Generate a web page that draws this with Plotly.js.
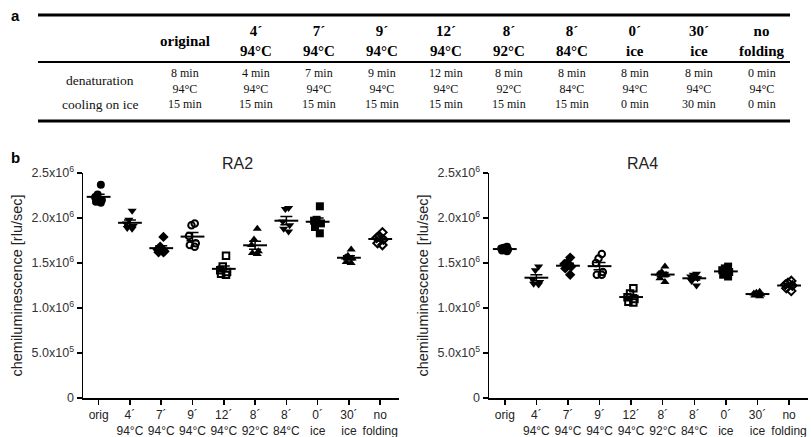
<!DOCTYPE html>
<html>
<head>
<meta charset="utf-8">
<script src="https://cdn.plot.ly/plotly-3.0.1.min.js"></script>
<style>html,body{margin:0;padding:0;background:#fff}#chart{width:811px;height:437px}</style>
</head>
<body>
<div id="chart"></div>
<script>
// ---------- table data (panel a) ----------
const tableHeaders = ["", "original", "4´<br>94°C", "7´<br>94°C", "9´<br>94°C", "12´<br>94°C", "8´<br>92°C", "8´<br>84°C", "0´<br>ice", "30´<br>ice", "no<br>folding"];
const rowLabels = ["denaturation", "cooling on ice"];
const denaturation = ["8 min<br>94°C", "4 min<br>94°C", "7 min<br>94°C", "9 min<br>94°C", "12 min<br>94°C", "8 min<br>92°C", "8 min<br>84°C", "8 min<br>94°C", "8 min<br>94°C", "0 min<br>94°C"];
const cooling = ["15 min", "15 min", "15 min", "15 min", "15 min", "15 min", "15 min", "0 min", "30 min", "0 min"];

// ---------- chart categories (panel b) ----------
const categories = ["orig", "4´<br>94°C", "7´<br>94°C", "9´<br>94°C", "12´<br>94°C", "8´<br>92°C", "8´<br>84°C", "0´<br>ice", "30´<br>ice", "no<br>folding"];
const yTickVals = [0, 5e5, 1e6, 1.5e6, 2e6, 2.5e6];
const yTickText = ["0", "5.0x10<sup>5</sup>", "1.0x10<sup>6</sup>", "1.5x10<sup>6</sup>", "2.0x10<sup>6</sup>", "2.5x10<sup>6</sup>"];

// RA2 values (rlu/sec)
const ra2Orig   = [2.37e6, 2.26e6, 2.23e6, 2.20e6, 2.18e6, 2.17e6];
const ra2T4_94  = [2.08e6, 1.98e6, 1.94e6, 1.91e6, 1.89e6, 1.88e6];
const ra2T7_94  = [1.79e6, 1.68e6, 1.65e6, 1.63e6, 1.62e6, 1.62e6];
const ra2T9_94  = [1.94e6, 1.92e6, 1.80e6, 1.72e6, 1.70e6, 1.68e6];
const ra2T12_94 = [1.58e6, 1.46e6, 1.42e6, 1.40e6, 1.38e6, 1.37e6];
const ra2T8_92  = [1.88e6, 1.76e6, 1.70e6, 1.63e6, 1.61e6, 1.60e6];
const ra2T8_84  = [2.11e6, 2.10e6, 1.96e6, 1.92e6, 1.88e6, 1.85e6];
const ra2Ice0   = [2.13e6, 1.98e6, 1.97e6, 1.94e6, 1.90e6, 1.83e6];
const ra2Ice30  = [1.65e6, 1.58e6, 1.56e6, 1.55e6, 1.51e6, 1.50e6];
const ra2NoFold = [1.84e6, 1.80e6, 1.78e6, 1.76e6, 1.72e6, 1.70e6];

// RA4 values (rlu/sec)
const ra4Orig   = [1.68e6, 1.67e6, 1.66e6, 1.65e6, 1.64e6, 1.63e6];
const ra4T4_94  = [1.46e6, 1.42e6, 1.32e6, 1.29e6, 1.27e6, 1.26e6];
const ra4T7_94  = [1.56e6, 1.50e6, 1.49e6, 1.46e6, 1.44e6, 1.37e6];
const ra4T9_94  = [1.60e6, 1.55e6, 1.50e6, 1.40e6, 1.37e6, 1.37e6];
const ra4T12_94 = [1.22e6, 1.16e6, 1.12e6, 1.10e6, 1.07e6, 1.06e6];
const ra4T8_92  = [1.46e6, 1.40e6, 1.38e6, 1.37e6, 1.33e6, 1.29e6];
const ra4T8_84  = [1.38e6, 1.37e6, 1.35e6, 1.33e6, 1.30e6, 1.25e6];
const ra4Ice0   = [1.46e6, 1.44e6, 1.42e6, 1.40e6, 1.37e6, 1.35e6];
const ra4Ice30  = [1.18e6, 1.17e6, 1.16e6, 1.15e6, 1.14e6, 1.13e6];
const ra4NoFold = [1.30e6, 1.28e6, 1.26e6, 1.25e6, 1.22e6, 1.19e6];

const ra2Groups = [ra2Orig, ra2T4_94, ra2T7_94, ra2T9_94, ra2T12_94, ra2T8_92, ra2T8_84, ra2Ice0, ra2Ice30, ra2NoFold];
const ra4Groups = [ra4Orig, ra4T4_94, ra4T7_94, ra4T9_94, ra4T12_94, ra4T8_92, ra4T8_84, ra4Ice0, ra4Ice30, ra4NoFold];

// ---------- styling / layout ----------
const symbols = ["circle", "triangle-down", "diamond", "circle-open", "square-open", "triangle-up", "triangle-down", "square", "triangle-up", "diamond-open"];
const sansFont = "Liberation Sans, Arial, sans-serif";
const serifFont = "Liberation Serif, Times New Roman, serif";
const W = 811, H = 437;
const px = v => v / W;
const py = v => 1 - v / H;
// table layout (pixels)
const tableColCenters = [100, 185, 256, 319, 382, 446, 509, 572, 635, 699, 762];
const tableRowCenters = { header: 41.5, denat: 80.5, cool: 104 };

const mean = a => a.reduce((s, v) => s + v, 0) / a.length;
const sem = a => { const m = mean(a); const sd = Math.sqrt(a.reduce((s, v) => s + (v - m) * (v - m), 0) / (a.length - 1)); return sd / Math.sqrt(a.length); };

const traces = [];

function addPanel(groups, xa, ya) {
  groups.forEach((vals, i) => {
    const open = symbols[i].endsWith("open");
    traces.push({
      type: "box",
      xaxis: xa, yaxis: ya,
      x0: i, y: vals,
      boxpoints: "all", jitter: 0.55, pointpos: 0,
      line: { width: 0, color: "rgba(0,0,0,0)" },
      fillcolor: "rgba(0,0,0,0)",
      whiskerwidth: 0,
      marker: { symbol: symbols[i], size: open ? 6.5 : 8, color: "black", line: { color: "black", width: open ? 2 : 0 } },
      showlegend: false, hoverinfo: "y"
    });
  });
  traces.push({
    type: "scatter", mode: "markers",
    xaxis: xa, yaxis: ya,
    x: groups.map((g, i) => i),
    y: groups.map(mean),
    error_y: { type: "data", array: groups.map(sem), visible: true, color: "black", thickness: 1.5, width: 6 },
    marker: { symbol: "line-ew", size: 17, color: "black", line: { color: "black", width: 2 } },
    showlegend: false, hoverinfo: "y"
  });
}
addPanel(ra2Groups, "x", "y");
addPanel(ra4Groups, "x2", "y2");

const xCommon = {
  range: [-0.5, 9.6], tickmode: "array", tickvals: categories.map((c, i) => i), ticktext: categories,
  showline: true, linecolor: "black", linewidth: 1.5, ticks: "outside", ticklen: 5, tickwidth: 1.5, tickcolor: "black",
  showgrid: false, zeroline: false, tickfont: { family: sansFont, size: 12, color: "#222" }, fixedrange: true
};
const yCommon = {
  range: [0, 2.5e6], tickmode: "array", tickvals: yTickVals, ticktext: yTickText,
  showline: true, linecolor: "black", linewidth: 1.5, ticks: "outside", ticklen: 5, tickwidth: 1.5, tickcolor: "black",
  showgrid: false, zeroline: false, tickfont: { family: sansFont, size: 12.5, color: "#333" },
  title: { text: "chemiluminescence [rlu/sec]", font: { family: sansFont, size: 14.5, color: "#222" }, standoff: 5 },
  fixedrange: true
};

// table annotations
const cellAnn = (text, cx, cy, font) => ({ text: text, xref: "paper", yref: "paper", x: px(cx), y: py(cy), xanchor: "center", yanchor: "middle", align: "center", showarrow: false, font: font });
const headFont = { family: serifFont, size: 15, color: "black" };
const labelFont = { family: serifFont, size: 13.5, color: "#111" };
const cellFont = { family: serifFont, size: 12, color: "#111" };
const annotations = [];
tableHeaders.forEach((h, c) => {
  if (h) annotations.push(cellAnn("<b>" + h + "</b>", tableColCenters[c], tableRowCenters.header, headFont));
});
rowLabels.forEach((r, k) => {
  annotations.push(cellAnn(r, tableColCenters[0], k === 0 ? tableRowCenters.denat : tableRowCenters.cool, labelFont));
});
denaturation.forEach((d, c) => annotations.push(cellAnn(d, tableColCenters[c + 1], tableRowCenters.denat, cellFont)));
cooling.forEach((d, c) => annotations.push(cellAnn(d, tableColCenters[c + 1], tableRowCenters.cool, cellFont)));
annotations.push(
  { text: "<b>a</b>", xref: "paper", yref: "paper", x: px(15), y: py(16), xanchor: "center", yanchor: "middle", showarrow: false, font: { family: sansFont, size: 15, color: "black" } },
  { text: "<b>b</b>", xref: "paper", yref: "paper", x: px(15), y: py(157), xanchor: "center", yanchor: "middle", showarrow: false, font: { family: sansFont, size: 15, color: "black" } },
  { text: "RA2", xref: "x domain", yref: "paper", x: 0.49, y: py(163), xanchor: "center", yanchor: "middle", showarrow: false, font: { family: sansFont, size: 16, color: "#222" } },
  { text: "RA4", xref: "x2 domain", yref: "paper", x: 0.48, y: py(163), xanchor: "center", yanchor: "middle", showarrow: false, font: { family: sansFont, size: 16, color: "#222" } }
);

const layout = {
  width: W, height: H,
  margin: { l: 0, r: 0, t: 0, b: 0 },
  paper_bgcolor: "white", plot_bgcolor: "white",
  showlegend: false,
  boxmode: "overlay",
  xaxis: Object.assign({}, xCommon, { domain: [px(83), px(399)], anchor: "y" }),
  yaxis: Object.assign({}, yCommon, { domain: [py(398), py(173)], anchor: "x" }),
  xaxis2: Object.assign({}, xCommon, { domain: [px(489), px(808)], anchor: "y2" }),
  yaxis2: Object.assign({}, yCommon, { domain: [py(398), py(173)], anchor: "x2" }),
  shapes: [
    { type: "line", xref: "paper", yref: "paper", x0: px(38), x1: px(790), y0: py(15), y1: py(15), line: { color: "black", width: 3 } },
    { type: "line", xref: "paper", yref: "paper", x0: px(38), x1: px(790), y0: py(62), y1: py(62), line: { color: "black", width: 2 } },
    { type: "line", xref: "paper", yref: "paper", x0: px(38), x1: px(790), y0: py(121), y1: py(121), line: { color: "black", width: 3 } }
  ],
  annotations: annotations
};

Plotly.newPlot("chart", traces, layout, { displayModeBar: false, staticPlot: true });
</script>
</body>
</html>
